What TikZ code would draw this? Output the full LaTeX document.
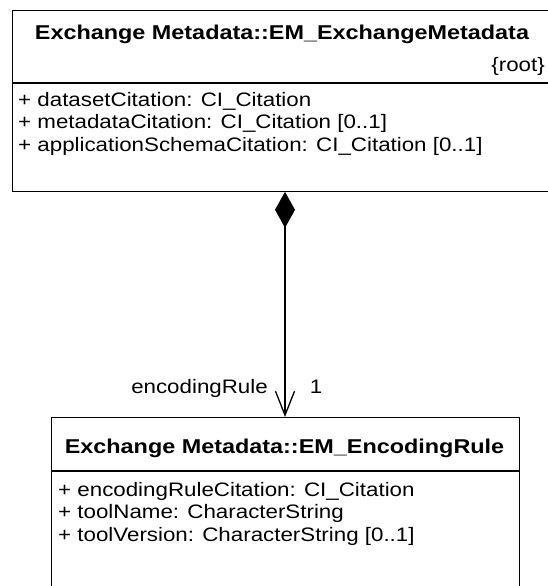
\documentclass[tikz,border=0pt]{standalone}
\usepackage{fontspec}
\setmainfont[FakeStretch=1.145]{Liberation Sans}
\newfontfamily\titlefont[FakeStretch=1.17]{Liberation Sans}
\usetikzlibrary{arrows.meta}
\begin{document}
\begin{tikzpicture}[x=1pt,y=-1pt,
  classbox/.style={draw, line width=1.3pt, inner sep=0pt, anchor=north west},
  sep/.style={line width=1.3pt},
  ctitle/.style={font=\titlefont\bfseries\fontsize{20}{24}\selectfont, inner sep=0pt},
  attr/.style={font=\fontsize{19.5}{23}\selectfont, anchor=west, inner sep=0pt},
  lbl/.style={font=\fontsize{19.5}{23}\selectfont, inner sep=0pt},
  conn/.style={line width=1.3pt}]
\useasboundingbox (0,0) rectangle (547,586);
% top class
\node[classbox, minimum width=537pt, minimum height=180.5pt] (top) at (12,10) {};
\node[ctitle] (t1) at (282,34) {Exchange Metadata::EM\_ExchangeMetadata};
\node[lbl, anchor=east] (root) at (545,66) {\{root\}};
\coordinate (ts1) at (12,83);
\draw[sep] (ts1) -- (ts1 -| top.east);
\node[attr] (a1) at (18,101) {+ datasetCitation: CI\_Citation};
\node[attr] (a2) at (18,123.5) {+ metadataCitation: CI\_Citation [0..1]};
\node[attr] (a3) at (18,146) {+ applicationSchemaCitation: CI\_Citation [0..1]};
% bottom class
\node[classbox, minimum width=468pt, minimum height=175pt] (bot) at (50.5,417) {};
\node[ctitle] (t2) at (284.5,448) {Exchange Metadata::EM\_EncodingRule};
\coordinate (bs1) at (50.5,471);
\draw[sep] (bs1) -- (bs1 -| bot.east);
\node[attr] (b1) at (58,491) {+ encodingRuleCitation: CI\_Citation};
\node[attr] (b2) at (58,513.5) {+ toolName: CharacterString};
\node[attr] (b3) at (58,536) {+ toolVersion: CharacterString [0..1]};
% association
\coordinate (cx) at (285,0);
\draw[conn, {Diamond[length=36pt,width=20pt]}-{Straight Barb[length=24pt,width=19pt,line width=1.3pt]}]
  (top.south -| cx) -- (bot.north -| cx);
\node[lbl, anchor=base east] (role) at (268,393) {encodingRule};
\node[lbl, anchor=base] (mult) at (316,393) {1};
\end{tikzpicture}
\end{document}
